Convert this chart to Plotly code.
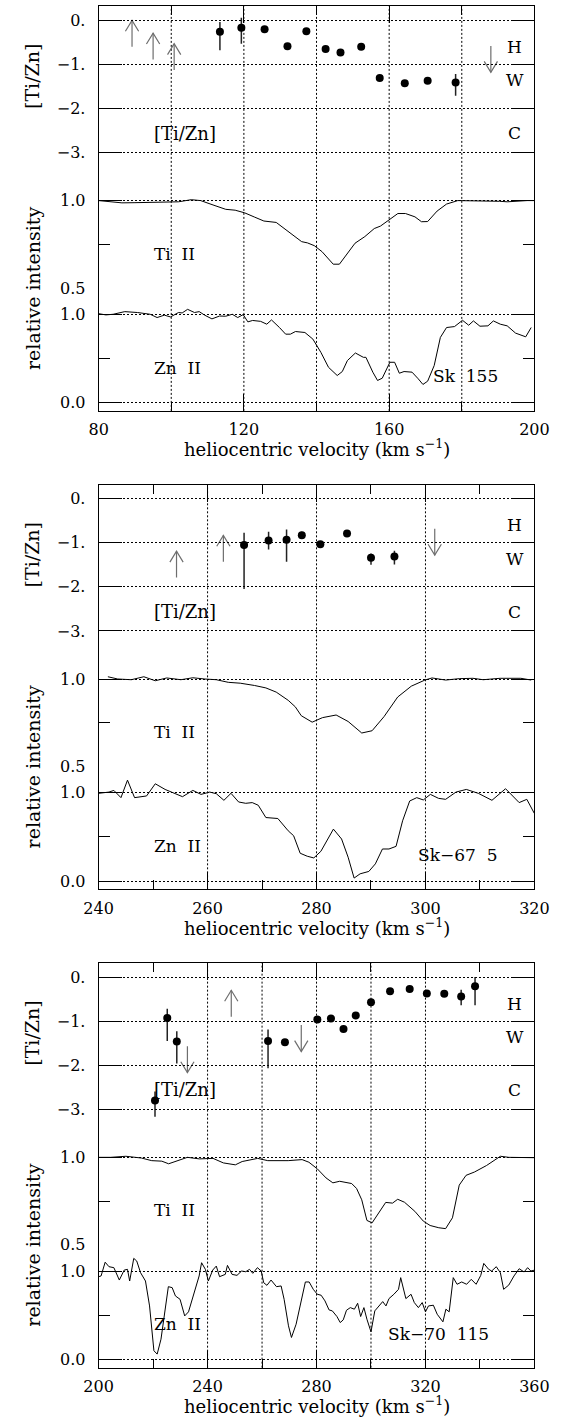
import plotly.graph_objects as go

# ====================== DATA ======================
# ---------- Panel 1 : Sk 155 ----------
P1_XR = [80, 200]
P1_XLAB = [80, 120, 160, 200]
P1_XMIN = [100, 140, 180]
P1_XGRID = [100, 120, 140, 160, 180]
P1_TIZN_V = [113.4, 119.3, 125.7, 132.0, 137.2, 142.5, 146.6, 152.3, 157.4, 164.3, 170.6, 178.3]
P1_TIZN = [-0.26, -0.17, -0.20, -0.59, -0.25, -0.65, -0.73, -0.60, -1.31, -1.43, -1.37, -1.41]
P1_ERR_UP = [0.22, 0.23, 0, 0, 0, 0, 0, 0, 0, 0, 0, 0.19]
P1_ERR_DN = [0.42, 0.36, 0, 0, 0, 0, 0, 0, 0, 0, 0, 0.30]
P1_LOW_V = [89.2, 95.0, 100.8]
P1_LOW = [-0.60, -0.89, -1.13]
P1_UPP_V = [188.0]
P1_UPP = [-0.58]
P1_TI_V = [80, 83, 86.4, 90, 94.2, 98, 102, 105.5, 108.1, 111.5, 115, 117.6, 120.2, 123, 125.5,
           128.9, 130.5, 132.4, 134.2, 135.9, 137.5, 139.4, 141.5, 143, 144.6, 146.3, 148.5, 150.6,
           153.3, 155.9, 157.6, 160.2, 162.4, 164.5, 167.1, 168.9, 170.6, 173.2, 175.8, 178.9, 182,
           185.4, 188, 190.4, 192.5, 195, 198, 200]
P1_TI = [1.0, 0.995, 0.987, 0.988, 0.99, 0.995, 0.993, 1.005, 1.0, 0.975, 0.95, 0.945, 0.93, 0.905,
         0.883, 0.875, 0.85, 0.816, 0.79, 0.765, 0.758, 0.742, 0.708, 0.672, 0.636, 0.636, 0.70,
         0.756, 0.794, 0.84, 0.854, 0.894, 0.926, 0.926, 0.907, 0.879, 0.88, 0.94, 0.98, 1.0, 1.0,
         1.0, 0.998, 0.996, 0.993, 0.998, 1.0, 1.0]
P1_ZN_V = [80, 82, 84, 87.2, 90.7, 94.2, 96.1, 98.1, 99.8, 102, 103, 104.5, 106.4, 107.7, 109.2,
           111.2, 113.3, 115, 116.8, 118.3, 119.8, 121.1, 122.4, 124.6, 126.3, 127.6, 129.8, 131.5,
           132.8, 134.2, 136.8, 139, 141.2, 143.3, 145.7, 147.1, 148.5, 150.7, 152.9, 153.6, 155.5,
           156.8, 158.1, 160.2, 161.5, 162.8, 164.1, 166.3, 168, 169.3, 170.6, 172.4, 174.1, 175.8,
           178, 180.2, 181.9, 183.2, 185, 187.2, 188.7, 190.6, 192.5, 194.8, 197.6, 199.1]
P1_ZN = [1.007, 0.993, 1.0, 1.03, 1.02, 1.0, 0.963, 0.99, 0.97, 1.02, 1.015, 1.056, 1.02, 1.03, 0.99,
         0.948, 0.98, 0.978, 1.0, 0.963, 0.996, 0.914, 0.93, 0.92, 0.888, 0.936, 0.85, 0.775, 0.775,
         0.805, 0.794, 0.719, 0.569, 0.40, 0.307, 0.352, 0.476, 0.562, 0.513, 0.513, 0.345, 0.251,
         0.277, 0.457, 0.457, 0.333, 0.352, 0.345, 0.27, 0.206, 0.243, 0.42, 0.738, 0.85, 0.861,
         0.932, 0.876, 0.925, 0.865, 0.869, 0.925, 0.888, 0.869, 0.787, 0.745, 0.85]

# ---------- Panel 2 : Sk-67 5 ----------
P2_XR = [240, 320]
P2_XLAB = [240, 260, 280, 300, 320]
P2_XMIN = [250, 270, 290, 310]
P2_XGRID = [260, 280, 300]
P2_TIZN_V = [266.7, 271.2, 274.5, 277.3, 280.7, 285.6, 290.0, 294.3]
P2_TIZN = [-1.05, -0.95, -0.93, -0.83, -1.03, -0.79, -1.34, -1.31]
P2_ERR_UP = [0.28, 0.20, 0.23, 0.08, 0, 0, 0.10, 0.13]
P2_ERR_DN = [1.00, 0.20, 0.50, 0.08, 0, 0, 0.16, 0.18]
P2_LOW_V = [254.3, 262.9]
P2_LOW = [-1.79, -1.43]
P2_UPP_V = [301.7]
P2_UPP = [-0.68]
P2_TI_V = [241.7, 243.5, 246, 248.3, 250.4, 252.5, 255.1, 257.3, 259.5, 261.6, 263.8, 266, 268.6,
           270.7, 272.6, 274.8, 276.1, 277.2, 279.2, 279.8, 281.1, 283.6, 285.8, 288.3, 290.2, 292.4,
           294.9, 297.4, 299.9, 301.2, 303.7, 306.2, 308.7, 310.6, 313.7, 317.5, 319.4]
P2_TI = [1.013, 1.0, 0.996, 1.013, 0.99, 1.006, 0.996, 1.007, 1.0, 0.996, 0.981, 0.976, 0.963,
         0.949, 0.925, 0.878, 0.841, 0.79, 0.753, 0.76, 0.779, 0.794, 0.757, 0.691, 0.704, 0.785,
         0.897, 0.959, 0.994, 1.006, 0.994, 1.002, 1.004, 0.996, 1.004, 1.004, 0.994]
P2_ZN_V = [240, 241.9, 242.8, 244.1, 245.3, 246.6, 248.8, 250.4, 252.2, 253.8, 255.4, 257.3, 258.8,
           260.4, 261.6, 263, 264.3, 265.7, 267, 268.2, 269.3, 270.7, 272.9, 274.8, 275.8, 277, 278.3,
           279.5, 280.8, 283.1, 284.6, 285.8, 286.9, 288, 289.6, 290.8, 292.1, 293.3, 294.6, 295.8,
           297.1, 298.4, 299.6, 300.9, 302.4, 303.7, 305.6, 307.5, 309.7, 312.2, 314.7, 317.2, 318.6,
           320]
P2_ZN = [0.993, 1.007, 1.026, 0.944, 1.142, 0.944, 0.963, 1.101, 1.037, 1.0, 0.955, 1.026, 0.981,
         1.007, 0.989, 0.914, 0.993, 0.895, 0.88, 0.888, 0.858, 0.719, 0.708, 0.569, 0.513, 0.315,
         0.281, 0.262, 0.337, 0.588, 0.476, 0.27, 0.034, 0.082, 0.109, 0.195, 0.363, 0.363, 0.393,
         0.682, 0.906, 0.944, 0.918, 0.981, 0.936, 0.925, 1.007, 1.037, 0.993, 0.914, 1.045, 0.888,
         0.925, 0.764]

# ---------- Panel 3 : Sk-70 115 ----------
P3_XR = [200, 360]
P3_XLAB = [200, 240, 280, 320, 360]
P3_XMIN = [220, 260, 300, 340]
P3_XGRID = [240, 260, 280, 300, 320]
P3_TIZN_V = [220.7, 225.2, 228.7, 262.2, 268.4, 280.3, 285.3, 289.9, 294.4, 300.0, 307.0, 314.2,
             320.5, 326.9, 333.1, 338.2]
P3_TIZN = [-2.80, -0.93, -1.46, -1.45, -1.48, -0.96, -0.94, -1.18, -0.87, -0.57, -0.32, -0.27,
           -0.37, -0.38, -0.44, -0.21]
P3_ERR_UP = [0.20, 0.21, 0.23, 0.26, 0, 0, 0, 0, 0, 0, 0, 0, 0, 0, 0.15, 0.21]
P3_ERR_DN = [0.37, 0.52, 0.50, 0.62, 0, 0, 0, 0, 0, 0, 0, 0, 0, 0, 0.20, 0.43]
P3_LOW_V = [248.7]
P3_LOW = [-0.90]
P3_UPP_V = [232.6, 274.4]
P3_UPP = [-1.57, -1.09]
P3_TI_V = [200, 204.4, 210, 215.7, 219.5, 223.2, 225.7, 229.5, 232.6, 237, 242, 245.8, 250.2, 252.7,
           258.4, 262.1, 269.6, 274.7, 277.2, 280.3, 283.5, 286, 288.5, 292.9, 294.7, 296.6, 298.5,
           300.4, 302.9, 305.4, 307.9, 309.8, 312.3, 316.1, 319.2, 321.7, 324.9, 327.4, 329.9, 332.4,
           334.9, 338, 342.4, 347.5, 350.6, 355, 360]
P3_TI = [1.0, 1.0, 1.006, 0.996, 0.981, 0.978, 0.963, 0.985, 1.0, 0.991, 0.994, 0.968, 0.957, 0.976,
         0.994, 0.981, 0.981, 0.987, 0.972, 0.934, 0.882, 0.854, 0.863, 0.85, 0.822, 0.757, 0.639,
         0.625, 0.687, 0.742, 0.738, 0.76, 0.743, 0.691, 0.635, 0.61, 0.597, 0.592, 0.654, 0.841,
         0.897, 0.916, 0.953, 1.006, 1.0, 0.998, 0.998]
P3_ZN_V = [200, 200.9, 202.4, 203.8, 205.6, 207.6, 209.4, 210.6, 211.4, 212.9, 214, 215.4, 217.2,
           218.7, 220.3, 221.5, 222.9, 224.1, 225.6, 227, 228.2, 229.9, 231.6, 233, 235.1, 236.9,
           237.8, 239.2, 240.3, 241.9, 243.2, 244.4, 246.5, 247.3, 249, 250.8, 252.5, 254, 255.4,
           256.6, 258.3, 259.7, 260.6, 261.8, 263.3, 265.3, 267, 268.1, 269.7, 270.8, 272.5, 274.2,
           275.9, 277.3, 278.8, 280.3, 281.7, 283.1, 284.6, 285.8, 287.5, 288.7, 289.8, 291, 292.4,
           293.9, 295.1, 296.2, 297.4, 298.5, 300, 301.4, 302.8, 304.3, 305.5, 306.6, 308.4, 310.1,
           310.9, 311.9, 312.8, 314.7, 315.9, 317.4, 318.8, 320, 321.1, 322.9, 324.3, 326.4, 327.5,
           328.7, 330.2, 331.6, 333.3, 335.1, 336.8, 338.6, 340.3, 341.4, 343.2, 344.3, 346, 347.5,
           348.7, 350.6, 352.5, 354.4, 356.2, 357.5, 358.7, 360]
P3_ZN = [0.936, 0.944, 1.10, 1.049, 1.038, 0.898, 1.011, 1.019, 0.887, 1.143, 1.113, 0.981, 0.887,
         0.605, 0.098, 0.06, 0.229, 0.511, 0.823, 0.812, 0.718, 0.68, 0.492, 0.538, 0.756, 0.944,
         1.094, 1.019, 0.887, 1.011, 1.056, 0.936, 0.962, 1.064, 0.962, 0.951, 1.0, 0.992, 1.019,
         0.974, 1.038, 1.0, 0.868, 0.838, 0.898, 0.823, 0.831, 0.68, 0.38, 0.248, 0.398, 0.643,
         0.876, 0.876, 0.793, 0.737, 0.726, 0.662, 0.56, 0.549, 0.485, 0.417, 0.447, 0.556, 0.586,
         0.568, 0.635, 0.485, 0.586, 0.455, 0.312, 0.549, 0.605, 0.654, 0.605, 0.688, 0.737, 0.793,
         0.925, 0.793, 0.688, 0.737, 0.643, 0.586, 0.643, 0.538, 0.605, 0.613, 0.511, 0.425, 0.568,
         0.538, 0.925, 0.85, 0.876, 0.85, 0.906, 0.85, 0.951, 1.086, 1.019, 1.0, 1.049, 0.98, 0.793,
         0.842, 0.944, 1.026, 0.989, 1.038, 1.0, 1.01]

STAR_NAMES = ["Sk\u00a0\u00a0155", "Sk\u221267\u00a0\u00a05", "Sk\u221270\u00a0\u00a0115"]
STAR_X = [171.4, 298.3, 305.4]
STAR_Y = [0.30, 0.296, 0.293]

TIZN_TICKS = [0, -1, -2, -3]
TIZN_TEXT = ["0.", "\u22121.", "\u22122.", "\u22123."]
TI_TICKS = [1.0, 0.5]
TI_TEXT = ["1.0", "0.5"]
TI_MINOR = [0.75]
ZN_TICKS = [1.0, 0.0]
ZN_TEXT = ["1.0", "0.0"]
ZN_MINOR = [0.5]

# ====================== LAYOUT CONSTANTS ======================
W, H = 566, 1426
FONT = "DejaVu Serif"
X0, X1 = 88.3, 548.5
TOPS = [6.5, 488.3, 970.0]
B_TIZN, B_TI, B_ZN = 178.0, 283.5, 407.3
TIZN_RANGE = [-(B_TIZN - 14.0) / 44.35, 14.0 / 44.35]
TI_RANGE = [0.5, 1.0 + (195.5 - B_TIZN) / 176.0]
ZN_RANGE = [-(B_ZN - 399.0) / 89.0, 1.0 + (310.0 - B_TI) / 89.0]
ARROW_LEN = 0.6


def fy(px):
    return 1 - px / H


FX = [X0 / W, X1 / W]

PANELS = [
    dict(xr=P1_XR, xlab=P1_XLAB, xmin=P1_XMIN, xgrid=P1_XGRID, tv=P1_TIZN_V, t=P1_TIZN,
         eu=P1_ERR_UP, ed=P1_ERR_DN, lv=P1_LOW_V, l=P1_LOW, uv=P1_UPP_V, u=P1_UPP,
         tiv=P1_TI_V, ti=P1_TI, znv=P1_ZN_V, zn=P1_ZN),
    dict(xr=P2_XR, xlab=P2_XLAB, xmin=P2_XMIN, xgrid=P2_XGRID, tv=P2_TIZN_V, t=P2_TIZN,
         eu=P2_ERR_UP, ed=P2_ERR_DN, lv=P2_LOW_V, l=P2_LOW, uv=P2_UPP_V, u=P2_UPP,
         tiv=P2_TI_V, ti=P2_TI, znv=P2_ZN_V, zn=P2_ZN),
    dict(xr=P3_XR, xlab=P3_XLAB, xmin=P3_XMIN, xgrid=P3_XGRID, tv=P3_TIZN_V, t=P3_TIZN,
         eu=P3_ERR_UP, ed=P3_ERR_DN, lv=P3_LOW_V, l=P3_LOW, uv=P3_UPP_V, u=P3_UPP,
         tiv=P3_TI_V, ti=P3_TI, znv=P3_ZN_V, zn=P3_ZN),
]


def yname(i):
    return "y" if i == 1 else f"y{i}"


def ykey(i):
    return "yaxis" if i == 1 else f"yaxis{i}"


fig = go.Figure()
layout = dict(width=W, height=H, margin=dict(l=0, r=0, t=0, b=0), autosize=False,
              paper_bgcolor="white", plot_bgcolor="rgba(0,0,0,0)", showlegend=False,
              font=dict(family=FONT, color="black"))
annotations = []
shapes = []

GRID_DASH = "2px,2px"


def yaxis_dict(domain, rng, tv, tt, minor, anchor):
    d = dict(domain=domain, range=rng, anchor=anchor, tickmode="array", tickvals=tv, ticktext=tt,
             ticks="inside", ticklen=23, tickwidth=1, tickcolor="black", showline=True,
             linecolor="black", linewidth=1, mirror="ticks", showgrid=True, gridcolor="black",
             gridwidth=1, griddash=GRID_DASH, zeroline=False, fixedrange=True,
             tickfont=dict(family=FONT, size=16, color="black"), ticklabelstandoff=9)
    if minor:
        d["minor"] = dict(tickmode="array", tickvals=minor, ticks="inside", ticklen=11,
                          tickcolor="black", tickwidth=1, showgrid=False)
    return d


for p, P in enumerate(PANELS):
    T = TOPS[p]
    xa = "x" if p == 0 else f"x{p + 1}"
    xa_key = "xaxis" if p == 0 else f"xaxis{p + 1}"
    xt = f"x{p + 4}"
    xt_key = f"xaxis{p + 4}"
    i1, i2, i3 = 3 * p + 1, 3 * p + 2, 3 * p + 3
    xmin, xmax = P["xr"]
    px_per_x = (X1 - X0) / (xmax - xmin)

    # axes
    layout[ykey(i1)] = yaxis_dict([fy(T + B_TIZN), fy(T)], TIZN_RANGE, TIZN_TICKS, TIZN_TEXT, None, xa)
    layout[ykey(i2)] = yaxis_dict([fy(T + B_TI), fy(T + B_TIZN)], TI_RANGE, TI_TICKS, TI_TEXT, TI_MINOR, xa)
    layout[ykey(i3)] = yaxis_dict([fy(T + B_ZN), fy(T + B_TI)], ZN_RANGE, ZN_TICKS, ZN_TEXT, ZN_MINOR, xa)
    common_x = dict(domain=FX, range=[xmin, xmax], tickmode="array", tickvals=P["xlab"],
                    ticktext=[str(v) for v in P["xlab"]], ticks="inside", ticklen=17, tickwidth=1,
                    tickcolor="black", showline=True, linecolor="black", linewidth=1,
                    showgrid=False, zeroline=False, fixedrange=True,
                    minor=dict(tickmode="array", tickvals=P["xmin"], ticks="inside", ticklen=9,
                               tickcolor="black", tickwidth=1, showgrid=False))
    layout[xa_key] = dict(common_x, anchor=yname(i3), side="bottom",
                          tickfont=dict(family=FONT, size=16, color="black"), ticklabelstandoff=4)
    layout[xt_key] = dict(common_x, anchor=yname(i1), side="top", showticklabels=False)

    # dummy trace so the top axis is drawn
    fig.add_trace(go.Scatter(x=[None], y=[None], xaxis=xt, yaxis=yname(i1), hoverinfo="skip"))

    # vertical dotted grid
    for g in P["xgrid"]:
        shapes.append(dict(type="line", xref=xa, yref="paper", x0=g, x1=g, y0=fy(T + B_ZN), y1=fy(T),
                           line=dict(color="black", width=1, dash=GRID_DASH), layer="below"))

    # [Ti/Zn] points with error bars
    fig.add_trace(go.Scatter(x=P["tv"], y=P["t"], mode="markers", xaxis=xa, yaxis=yname(i1),
                             marker=dict(color="black", size=8),
                             error_y=dict(type="data", symmetric=False, array=P["eu"],
                                          arrayminus=P["ed"], thickness=1.5, width=0, color="#222")))

    # limit arrows (open V heads)
    hw = 7.0 / px_per_x
    hl = 11.0 / 44.35
    ax_, ay_ = [], []
    for v, y0 in zip(P["lv"], P["l"]):
        tip = y0 + ARROW_LEN
        ax_ += [v, v, None, v - hw, v, v + hw, None]
        ay_ += [y0, tip, None, tip - hl, tip, tip - hl, None]
    for v, y0 in zip(P["uv"], P["u"]):
        tip = y0 - ARROW_LEN
        ax_ += [v, v, None, v - hw, v, v + hw, None]
        ay_ += [y0, tip, None, tip + hl, tip, tip + hl, None]
    fig.add_trace(go.Scatter(x=ax_, y=ay_, mode="lines", xaxis=xa, yaxis=yname(i1),
                             line=dict(color="#6e6e6e", width=1.2)))

    # spectra
    fig.add_trace(go.Scatter(x=P["tiv"], y=P["ti"], mode="lines", xaxis=xa, yaxis=yname(i2),
                             line=dict(color="black", width=1)))
    fig.add_trace(go.Scatter(x=P["znv"], y=P["zn"], mode="lines", xaxis=xa, yaxis=yname(i3),
                             line=dict(color="black", width=1)))

    # text labels inside
    xl = xmin + 0.1217 * (xmax - xmin)
    xr_ = xmin + 0.9545 * (xmax - xmin)
    tf = dict(family=FONT, size=17, color="black")
    C = dict(showarrow=False, xanchor="center", yanchor="middle")
    L = dict(showarrow=False, xanchor="left", yanchor="middle")
    annotations += [
        dict(L, x=xl, y=-2.56, xref=xa, yref=yname(i1), text="[Ti/Zn]",
             font=dict(family=FONT, size=18, color="black")),
        dict(C, x=xr_, y=-0.60, xref=xa, yref=yname(i1), text="H", font=tf),
        dict(C, x=xr_, y=-1.36, xref=xa, yref=yname(i1), text="W", font=tf),
        dict(C, x=xr_, y=-2.56, xref=xa, yref=yname(i1), text="C", font=tf),
        dict(L, x=xl, y=0.697, xref=xa, yref=yname(i2), text="Ti\u00a0\u00a0II", font=tf),
        dict(L, x=xl, y=0.395, xref=xa, yref=yname(i3), text="Zn\u00a0\u00a0II", font=tf),
        dict(L, x=STAR_X[p], y=STAR_Y[p], xref=xa, yref=yname(i3), text=STAR_NAMES[p], font=tf),
        # axis titles
        dict(C, x=18 / W, y=fy(T + 71), xref="paper", yref="paper", text="[Ti/Zn]", textangle=-90,
             font=dict(family=FONT, size=19, color="black")),
        dict(C, x=19 / W, y=fy(T + 283.5), xref="paper", yref="paper", text="relative intensity",
             textangle=-90, font=dict(family=FONT, size=19, color="black")),
        dict(C, x=(X0 + X1) / 2 / W, y=fy(T + 445), xref="paper", yref="paper",
             text="heliocentric velocity (km s<sup>\u22121</sup>)",
             font=dict(family=FONT, size=18, color="black")),
    ]

layout["annotations"] = annotations
layout["shapes"] = shapes
fig.update_layout(**layout)
fig.write_html("out.html")
